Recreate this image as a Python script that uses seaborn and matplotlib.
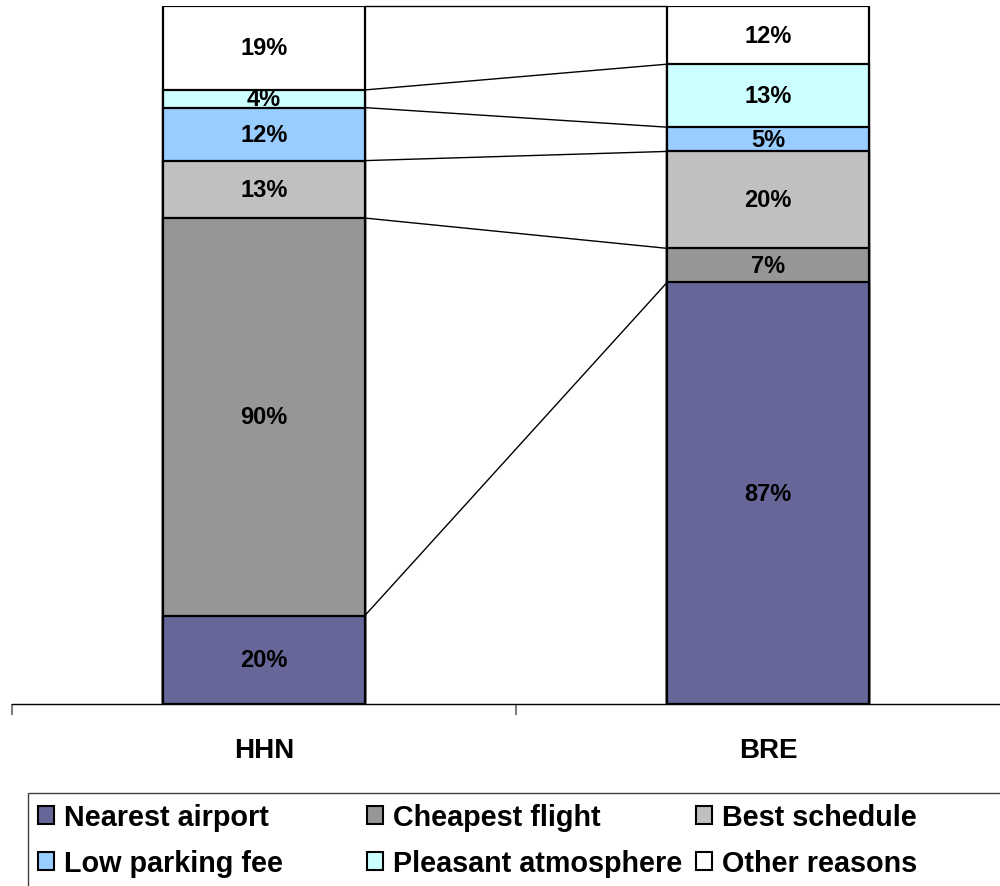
import numpy as np
import pandas as pd
import matplotlib
matplotlib.use('Agg')
import matplotlib.pyplot as plt
from matplotlib.patches import Patch, Rectangle
import seaborn as sns

# Data
airports = ['HHN', 'BRE']
reasons = ['Nearest airport', 'Cheapest flight', 'Best schedule',
           'Low parking fee', 'Pleasant atmosphere', 'Other reasons']
hhn = [20, 90, 13, 12, 4, 19]
bre = [87, 7, 20, 5, 13, 12]
colors = ['#666699', '#969696', '#C0C0C0', '#99CCFF', '#CCFFFF', '#FFFFFF']

sns.set_theme(style='white')
plt.rcParams['font.family'] = ['Liberation Sans', 'DejaVu Sans']
plt.rcParams['font.weight'] = 'bold'
plt.rcParams['text.color'] = 'black'
plt.rcParams['xtick.color'] = 'black'

vals = np.array([hhn, bre], dtype=float)
# 100% stacked: normalise each bar to its own total
frac = vals / vals.sum(axis=1, keepdims=True)
cum = frac.cumsum(axis=1)

fig = plt.figure(figsize=(10, 8.87), dpi=100)
ax = fig.add_axes([0.012, 1 - 705 / 887, 1.008, (705 - 7) / 887])

# draw the cumulative bars from the top series down so each layer covers the next
for i in range(len(reasons) - 1, -1, -1):
    df = pd.DataFrame({'airport': airports, 'top': cum[:, i]})
    sns.barplot(data=df, x='airport', y='top', color=colors[i], width=0.4,
                edgecolor='black', linewidth=1.6, saturation=1, ax=ax)

# series lines between bars
for i in range(len(reasons)):
    ax.plot([0.2, 0.8], [cum[0, i], cum[1, i]], color='black', lw=1.0,
            clip_on=False, zorder=5)

# data labels
for j in range(len(airports)):
    for i in range(len(reasons)):
        mid = cum[j, i] - frac[j, i] / 2
        ax.text(j, mid, f'{int(vals[j, i])}%', ha='center', va='center',
                fontsize=17, fontweight='bold', color='black')

ax.set_xlim(-0.5, 1.5)
ax.set_ylim(0, 1)
ax.set_xlabel('')
ax.set_ylabel('')
ax.set_yticks([])
for s in ['left', 'right', 'top']:
    ax.spines[s].set_visible(False)
ax.spines['bottom'].set_color('black')
ax.spines['bottom'].set_linewidth(1.0)
ax.set_xticks([0, 1])
ax.set_xticklabels(airports, fontsize=20, fontweight='bold', color='black')
ax.tick_params(axis='x', which='major', length=0, pad=24)
ax.set_xticks([-0.5, 0.5, 1.5], minor=True)
ax.tick_params(axis='x', which='minor', direction='out', length=8,
               width=1.5, color='#808080', bottom=True)

# legend box
fig.patches.append(Rectangle((0.028, -0.1), 1.1, 0.1 + (887 - 794) / 887,
                             transform=fig.transFigure, fill=False,
                             edgecolor='#404040', lw=1.0))
handles = [Patch(facecolor=c, edgecolor='black', lw=1.5, label=r)
           for c, r in zip(colors, reasons)]
# three equal-width columns, one legend each
col_x = [38, 367, 696]
for c in range(3):
    pair = [c, c + 3]
    leg = fig.legend([handles[k] for k in pair], [reasons[k] for k in pair],
                     loc='center left', bbox_to_anchor=(col_x[c] / 1000, 1 - 841 / 887),
                     ncol=1, frameon=False,
                     prop={'weight': 'bold', 'size': 20.7},
                     handlelength=0.56, handleheight=0.56, handletextpad=0.36,
                     labelspacing=0.62, borderpad=0, borderaxespad=0)
    for t in leg.get_texts():
        t.set_color('black')

fig.savefig('out.png', dpi=100)
